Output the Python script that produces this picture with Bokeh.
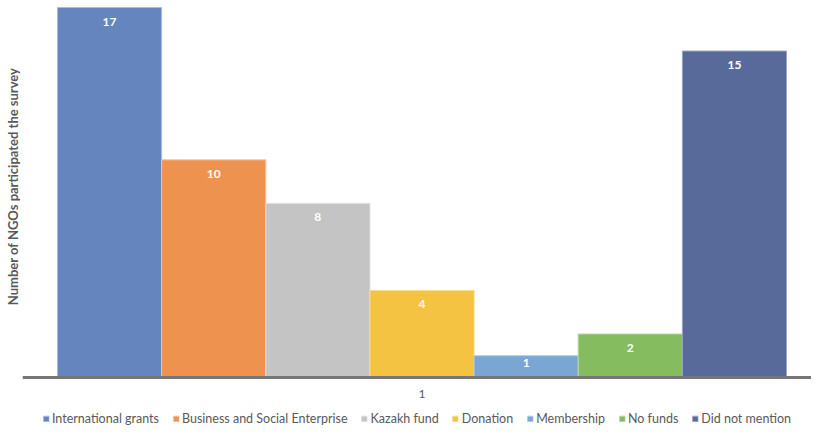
from bokeh.plotting import figure
from bokeh.models import (ColumnDataSource, Range1d, Legend, LegendItem, CDSView, IndexFilter,
                          Span, Title)
from bokeh.embed import file_html
from bokeh.resources import INLINE
from bokeh.core.properties import value

categories = ["International grants", "Business and Social Enterprise", "Kazakh fund",
              "Donation", "Membership", "No funds", "Did not mention"]
counts = [17, 10, 8, 4, 1, 2, 15]
colors = ["#6585BF", "#EE924F", "#C3C4C3", "#F5C342", "#79A6D2", "#84BC5F", "#576A9A"]
borders = ["#A9BCDD", "#F6C09A", "#DDDEDD", "#F9DB8E", "#AFC9E5", "#B7D8A1", "#9AA6C4"]
group_label = "1"
y_title = "Number of NGOs participated the survey"

FONT = "Lato"
TEXT_COLOR = "#595959"

pos = list(range(len(categories)))
offsets = [14 if c > 1 else 7 for c in counts]
src = ColumnDataSource(dict(x=pos, top=counts, color=colors, border=borders,
                            label=[str(c) for c in counts], name=categories, off=offsets))

# plot area extends below the baseline to host the category label and legend
p = figure(frame_width=789, frame_height=426, output_backend="svg", toolbar_location=None,
           x_range=Range1d(-0.836, 6.740), y_range=Range1d(-2.251, 17.322),
           min_border_left=0, min_border_right=0, min_border_top=0, min_border_bottom=0,
           outline_line_color=None)
p.xgrid.visible = False
p.ygrid.visible = False
p.xaxis.visible = False
p.yaxis.visible = False

renderers = []
for i in range(len(categories)):
    r = p.vbar(x="x", top="top", width=1.0, bottom=0, source=src,
               view=CDSView(filter=IndexFilter([i])),
               fill_color="color", line_color="border", line_width=1)
    renderers.append(r)

p.text(x="x", y="top", text="label", source=src, y_offset="off",
       text_align="center", text_baseline="middle", text_color="white",
       text_font=value(FONT), text_font_size="12px", text_font_style="bold")

# category axis line at zero
p.add_layout(Span(location=0, dimension="width", line_color="#767676", line_width=3))

# category label (single category "1") centered under the group
cat_src = ColumnDataSource(dict(x=[sum(pos) / len(pos)], y=[0], t=[group_label]))
p.text(x="x", y="y", text="t", source=cat_src, y_offset=16,
       text_align="center", text_baseline="middle", text_color=TEXT_COLOR,
       text_font=value(FONT), text_font_size="12px")

# y-axis title in the left panel
p.add_layout(Title(text=y_title, align="right", offset=67, standoff=4,
                   text_font=FONT, text_font_size="13px", text_font_style="bold",
                   text_color=TEXT_COLOR), "left")

items = [LegendItem(label=categories[i], renderers=[renderers[i]]) for i in range(len(categories))]
legend = Legend(items=items, orientation="horizontal", location="bottom_center",
                label_text_font=FONT, label_text_font_size="12.5px", label_text_color=TEXT_COLOR,
                glyph_width=7, glyph_height=7, label_standoff=3, spacing=13,
                padding=0, margin=0, border_line_color=None, background_fill_alpha=0,
                label_height=12)
p.add_layout(legend, "center")

open("out.html", "w").write(file_html(p, INLINE))
